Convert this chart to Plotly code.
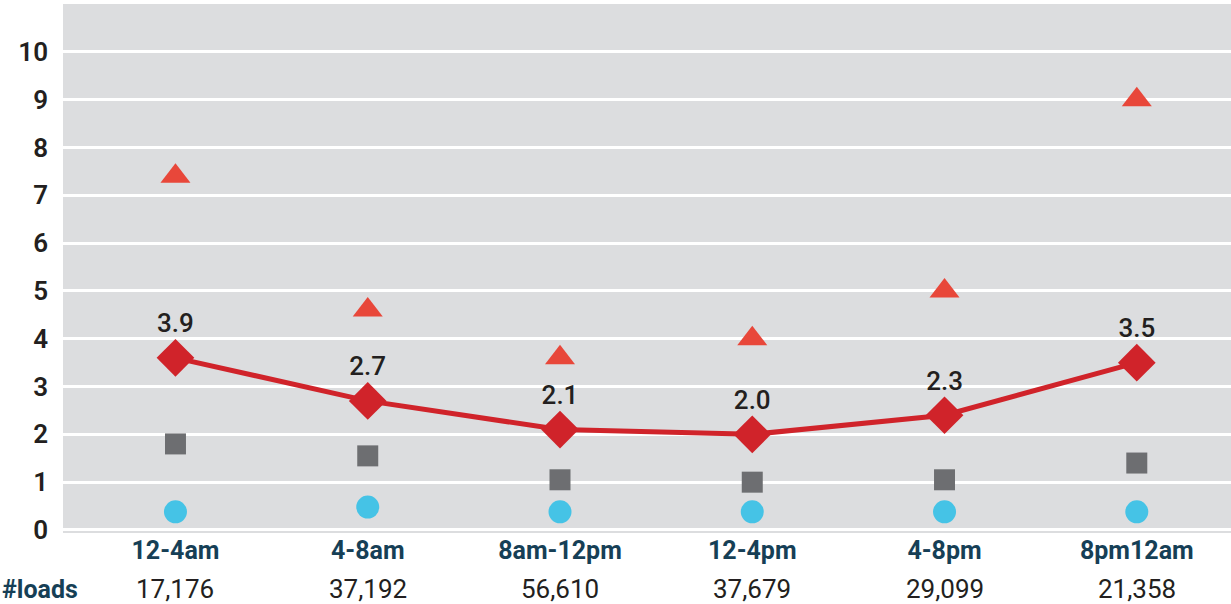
import plotly.graph_objects as go

categories = ["12-4am", "4-8am", "8am-12pm", "12-4pm", "4-8pm", "8pm12am"]
loads = ["17,176", "37,192", "56,610", "37,679", "29,099", "21,358"]
line_values = [3.6, 2.7, 2.1, 2.0, 2.4, 3.5]
line_labels = ["3.9", "2.7", "2.1", "2.0", "2.3", "3.5"]
triangle_values = [7.4, 4.6, 3.6, 4.0, 5.0, 9.0]
square_values = [1.8, 1.55, 1.05, 1.0, 1.05, 1.4]
circle_values = [0.38, 0.48, 0.38, 0.38, 0.38, 0.38]
y_ticks = list(range(0, 11))

FONT = "Roboto, Liberation Sans Narrow, DejaVu Sans Condensed, sans-serif"
xs = list(range(len(categories)))

fig = go.Figure()
fig.add_trace(go.Scatter(x=xs, y=triangle_values, mode="markers",
                         marker=dict(symbol="triangle-up", size=26, color="#E8473A")))
fig.add_trace(go.Scatter(x=xs, y=square_values, mode="markers",
                         marker=dict(symbol="square", size=21, color="#6D6E71")))
fig.add_trace(go.Scatter(x=xs, y=circle_values, mode="markers",
                         marker=dict(symbol="circle", size=23, color="#45C3E6")))
fig.add_trace(go.Scatter(x=xs, y=line_values, mode="lines+markers+text",
                         line=dict(color="#D0232A", width=5),
                         marker=dict(symbol="diamond", size=29, color="#D0232A"),
                         text=line_labels, textposition="top center",
                         textfont=dict(family=FONT, size=26, color="#231F20", weight=500)))

for x, ld in zip(xs, loads):
    fig.add_annotation(x=x, xref="x", y=-0.106, yref="paper", text=ld,
                       showarrow=False, font=dict(family=FONT, size=26, color="#231F20"),
                       yanchor="middle")
fig.add_annotation(x=-0.054, xref="paper", y=-0.106, yref="paper", text="<b>#loads</b>",
                   showarrow=False, font=dict(family=FONT, size=25, color="#163F56"),
                   xanchor="left", yanchor="middle")

fig.update_layout(
    width=1231, height=604,
    margin=dict(l=63, r=0, t=4, b=71),
    paper_bgcolor="white", plot_bgcolor="#DCDDDF",
    showlegend=False,
    font=dict(family=FONT, color="#231F20"),
)
fig.update_xaxes(range=[-0.585, 5.49], tickmode="array", tickvals=xs,
                 ticktext=["<b>%s</b>" % c for c in categories],
                 tickfont=dict(family=FONT, size=25, color="#163F56"),
                 showgrid=False, zeroline=False, ticks="", ticklabelstandoff=0,
                 automargin=False)
fig.update_yaxes(range=[-0.063, 11.0], tickmode="array", tickvals=y_ticks,
                 ticktext=[str(v) for v in y_ticks],
                 tickfont=dict(family=FONT, size=26, color="#231F20", weight=600),
                 showgrid=True, gridcolor="white", gridwidth=3,
                 zeroline=False, ticks="", ticklabelstandoff=14, automargin=False)

fig.write_html("out.html", config={"displayModeBar": False},
               post_script="document.body.style.margin='0';document.body.style.overflow='hidden';")
